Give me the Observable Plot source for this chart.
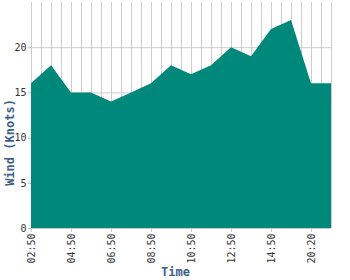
<!DOCTYPE html>
<html><head>
<meta charset="utf-8">
<script src="https://cdn.jsdelivr.net/npm/d3@7"></script>
<script src="https://cdn.jsdelivr.net/npm/@observablehq/plot@0.6"></script>
<style>body{margin:0;background:#fff;} svg{display:block;}</style>
</head><body><div id="chart"></div>
<script>
const times = ["02:50","03:50","04:50","05:50","06:50","07:50","08:50","09:50","10:50","11:50","12:50","13:50","14:50","17:50","20:20","21:50"];
const wind = [16,18,15,15,14,15,16,18,17,18,20,19,22,23,16,16];
const yTicks = [0,5,10,15,20];
const xLabel = "Time";
const yLabel = "Wind (Knots)";

const data = times.map((t, i) => ({i, t, wind: wind[i]}));
const xGrid = d3.range(0, times.length - 0.5, 0.5);
const xTicks = d3.range(0, times.length, 2);
const font = "DejaVu Sans Mono, monospace";
const labelColor = "#3d5f8a";

const chart = Plot.plot({
  width: 350,
  height: 280,
  marginLeft: 31,
  marginRight: 19,
  marginTop: 2,
  marginBottom: 52,
  style: {fontFamily: font, fontSize: "10px", color: "#333", background: "#fff"},
  x: {domain: [0, times.length - 1]},
  y: {domain: [0, 25]},
  marks: [
    Plot.gridY(yTicks, {stroke: "#ccc", strokeOpacity: 1}),
    Plot.gridX(xGrid, {stroke: "#ccc", strokeOpacity: 1}),
    Plot.areaY(data, {x: "i", y: "wind", fill: "#00897b"}),
    Plot.axisY(yTicks, {tickSize: 3, tickPadding: 2, stroke: "#bbb", fill: "#333", label: null, fontSize: 10}),
    Plot.axisX(xTicks, {tickFormat: i => times[i], tickRotate: -90, tickSize: 4, tickPadding: 1, stroke: "#ccc", fill: "#333", label: null, fontSize: 10}),
    Plot.text([xLabel], {frameAnchor: "bottom", textAnchor: "middle", dx: -6, dy: 47, fill: labelColor, fontWeight: "bold", fontSize: 12, fontFamily: font}),
    Plot.text([yLabel], {frameAnchor: "left", textAnchor: "middle", dx: -21, dy: 27, rotate: -90, fill: labelColor, fontWeight: "bold", fontSize: 12, fontFamily: font})
  ]
});
document.getElementById("chart").appendChild(chart);
</script>
</body></html>
